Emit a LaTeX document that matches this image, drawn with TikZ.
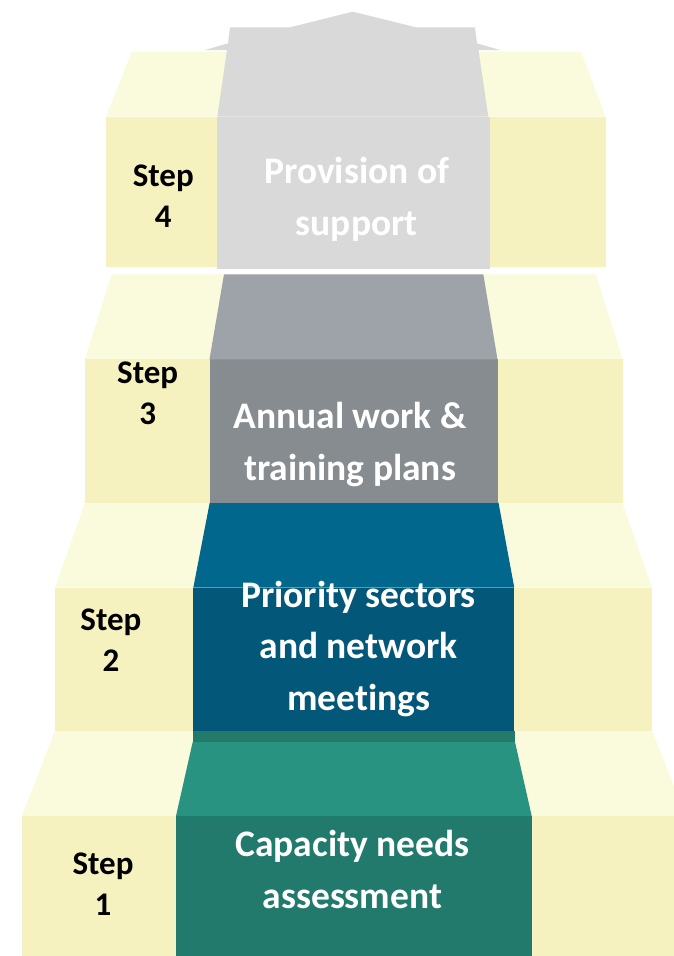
\documentclass[tikz,border=0pt]{standalone}
\usepackage{fontspec}
\setmainfont{Carlito}[Ligatures=NoCommon]
\definecolor{yfront}{HTML}{F5F2BF}
\definecolor{ytop}{HTML}{FAFADC}
\definecolor{lgray}{HTML}{D9D9D9}
\definecolor{gtop}{HTML}{9DA3A9}
\definecolor{gfront}{HTML}{878C90}
\definecolor{btop}{HTML}{02678D}
\definecolor{bfront}{HTML}{03587A}
\definecolor{grstrip}{HTML}{217A6A}
\definecolor{grtop}{HTML}{289380}
\definecolor{grfront}{HTML}{217A6B}
\tikzset{
  steplabel/.style={anchor=base, align=center, text=black,
    font=\bfseries\fontsize{33}{41}\selectfont, inner sep=0pt},
  mainlabel/.style={anchor=base, align=center, text=white,
    font=\bfseries\fontsize{37.5}{51.5}\selectfont, inner sep=0pt}
}
\begin{document}
\begin{tikzpicture}[x=1pt,y=-1pt]
\useasboundingbox (0,0) rectangle (674,956);
\clip (0,0) rectangle (674,956);
% yellow steps
\fill[ytop] (55,730.7) -- (652,730.7) -- (686,816) -- (22,816) -- cycle;
\fill[yfront] (22,816) rectangle (686,956);
\fill[ytop] (85,502.7) -- (622.3,502.7) -- (652,587.7) -- (55,587.7) -- cycle;
\fill[yfront] (55,587.7) rectangle (652,730.7);
\fill[ytop] (111.7,274.3) -- (595.7,274.3) -- (622.7,359.3) -- (85,359.3) -- cycle;
\fill[yfront] (85,359.3) rectangle (623,502.7);
\fill[ytop] (131.7,51.7) -- (581,51.7) -- (605.7,116.7) -- (106,116.7) -- cycle;
\fill[yfront] (106,116.7) rectangle (605.7,266.7);
% green column
\fill[grfront] (176,816) rectangle (531.7,956);
\fill[grtop] (192.7,742) -- (515,742) -- (531.7,816) -- (176,816) -- cycle;
\fill[grstrip] (192.5,730.7) rectangle (515,742);
% blue column
\fill[bfront] (193.3,587.7) rectangle (514.3,730.7);
\fill[btop] (209.7,502.7) -- (498.5,502.7) -- (514.3,587.7) -- (193.3,587.7) -- cycle;
% gray column
\fill[gfront] (209.5,359.3) rectangle (497.7,502.7);
\fill[gtop] (224,274.3) -- (483.3,274.3) -- (497.5,359.3) -- (209.5,359.3) -- cycle;
% light gray column with arrow head
\fill[lgray] (217.3,116.7) -- (227,50) -- (205,50) -- (228,43.3) -- (230,27.3)
  -- (290,27.3) -- (352.7,11.7) -- (416,27.3) -- (475,27.3) -- (477,43.3)
  -- (500,50) -- (478.5,50) -- (488.3,116.7) -- cycle;
\fill[lgray] (216.7,116.7) rectangle (490,269);
% step labels (anchor = baseline of last line)
\node[steplabel] (s4) at (163.3,227.3) {Step\\4};
\node[steplabel] (s3) at (147.7,424) {Step\\3};
\node[steplabel] (s2) at (110.9,671.7) {Step\\2};
\node[steplabel] (s1) at (103,915) {Step\\1};
% main labels
\node[mainlabel] (t4) at (356.7,235) {Provision of\\support};
\node[mainlabel] (t3) at (350,480) {Annual work \&\\training plans};
\node[mainlabel] (t2) at (358.6,710) {Priority sectors\\and network\\meetings};
\node[mainlabel] (t1) at (352.4,908.3) {Capacity needs\\assessment};
\end{tikzpicture}
\end{document}
